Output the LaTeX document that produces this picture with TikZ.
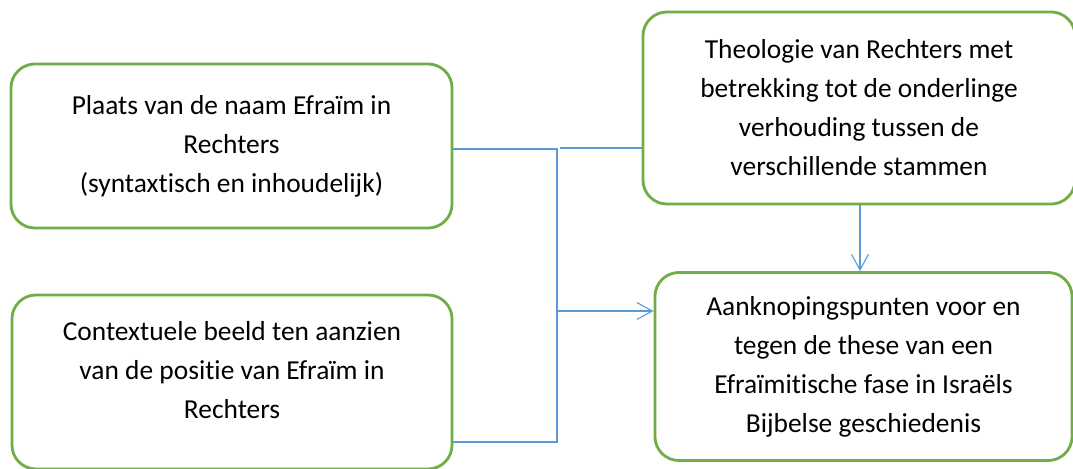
\documentclass[tikz,border=0pt]{standalone}
\usepackage{fontspec}
\setmainfont{Carlito}[Ligatures=CommonOff]
\usetikzlibrary{arrows.meta}
\definecolor{boxgreen}{HTML}{70AD47}
\definecolor{linkblue}{HTML}{5B9BD5}
\tikzset{
  box/.style = {draw=boxgreen, line width=2pt, rounded corners=0.6cm, align=center,
    font=\fontsize{19.5}{27.7}\selectfont, text=black},
  link/.style = {draw=linkblue, line width=0.8pt},
  >={Straight Barb[length=11pt,width=12pt,line width=0.8pt]}
}

\begin{document}
\begin{tikzpicture}[x=0.025cm,y=-0.025cm]
  \useasboundingbox (0,0) rectangle (1073,468);
  % boxes
  \node (A) at (231.5,146) [box, minimum width=11.025cm, minimum height=4.1cm]
    {Plaats van de naam Efraïm in\\Rechters\\(syntaxtisch en inhoudelijk)};
  \node (B) at (232,382) [box, minimum width=11cm, minimum height=4.35cm] {};
  \node (Btext) at (232,370) [box, draw=none]
    {Contextuele beeld ten aanzien\\van de positie van Efraïm in\\Rechters};
  \node (C) at (859,108) [box, minimum width=10.8cm, minimum height=4.8cm]
    {Theologie van Rechters met\\betrekking tot de onderlinge\\verhouding tussen de\\verschillende stammen};
  \node (D) at (863.5,366.5) [box, minimum width=10.425cm, minimum height=4.7cm]
    {Aanknopingspunten voor en\\tegen de these van een\\Efraïmitische fase in Israëls\\Bijbelse geschiedenis};
  % connector points
  \coordinate (aout) at (A.east |- 0,149);
  \coordinate (bout) at (B.east |- 0,442);
  \coordinate (spine) at (557,311);
  \coordinate (din) at (D.west |- spine);
  \coordinate (cgap) at (560,148);
  \coordinate (cin) at (C.west |- cgap);
  % connectors
  \draw[link] (aout) -| (spine) |- (bout);
  \draw[link,->] (spine) -- (din);
  \draw[link,line width=1.5pt] (cgap) -- (cin);
  \draw[link,->] (C.south -| 860,0) -- (D.north -| 860,0);
\end{tikzpicture}
\end{document}
